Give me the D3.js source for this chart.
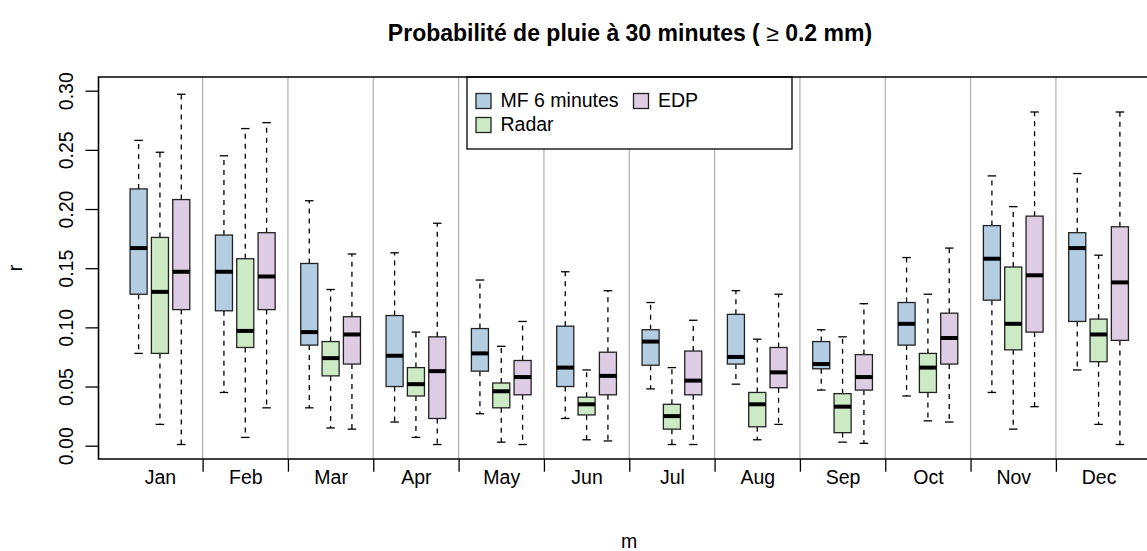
<!DOCTYPE html>
<html lang="fr">
<head>
<meta charset="utf-8">
<title>Probabilité de pluie à 30 minutes</title>
<script src="https://d3js.org/d3.v7.min.js"></script>
<style>
  body { margin: 0; background: #fff; }
  svg text { font-family: "Liberation Sans", Arial, sans-serif; fill: #000; }
</style>
</head>
<body>
<script>
// data
var months = ["Jan", "Feb", "Mar", "Apr", "May", "Jun", "Jul", "Aug", "Sep", "Oct", "Nov", "Dec"];
var seriesNames = ["MF 6 minutes", "Radar", "EDP"];
var seriesColors = ["#b3cde3", "#ccebc5", "#decbe4"];
var yTicks = [0, 0.05, 0.10, 0.15, 0.20, 0.25, 0.30];

// [min, q1, median, q3, max] per month
var mf6 = [
  [0.078, 0.128, 0.167, 0.217, 0.258],
  [0.045, 0.114, 0.147, 0.178, 0.245],
  [0.032, 0.085, 0.096, 0.154, 0.207],
  [0.020, 0.050, 0.076, 0.110, 0.163],
  [0.027, 0.063, 0.078, 0.099, 0.140],
  [0.023, 0.050, 0.066, 0.101, 0.147],
  [0.048, 0.068, 0.088, 0.098, 0.121],
  [0.052, 0.069, 0.075, 0.111, 0.131],
  [0.047, 0.065, 0.069, 0.088, 0.098],
  [0.042, 0.085, 0.103, 0.121, 0.159],
  [0.045, 0.123, 0.158, 0.186, 0.228],
  [0.064, 0.105, 0.167, 0.180, 0.230]
];
var radar = [
  [0.018, 0.078, 0.130, 0.176, 0.248],
  [0.007, 0.083, 0.097, 0.158, 0.268],
  [0.015, 0.059, 0.074, 0.088, 0.132],
  [0.007, 0.042, 0.052, 0.066, 0.096],
  [0.003, 0.032, 0.046, 0.053, 0.084],
  [0.005, 0.026, 0.035, 0.041, 0.064],
  [0.001, 0.014, 0.025, 0.035, 0.066],
  [0.005, 0.016, 0.035, 0.045, 0.090],
  [0.003, 0.011, 0.033, 0.044, 0.092],
  [0.021, 0.045, 0.066, 0.078, 0.128],
  [0.014, 0.081, 0.103, 0.151, 0.202],
  [0.018, 0.071, 0.094, 0.107, 0.161]
];
var edp = [
  [0.001, 0.115, 0.147, 0.208, 0.297],
  [0.032, 0.115, 0.143, 0.180, 0.273],
  [0.014, 0.069, 0.094, 0.109, 0.162],
  [0.001, 0.023, 0.063, 0.092, 0.188],
  [0.001, 0.043, 0.058, 0.072, 0.105],
  [0.004, 0.043, 0.059, 0.079, 0.131],
  [0.001, 0.043, 0.055, 0.080, 0.106],
  [0.018, 0.049, 0.062, 0.083, 0.128],
  [0.002, 0.047, 0.058, 0.077, 0.120],
  [0.020, 0.069, 0.091, 0.112, 0.167],
  [0.033, 0.096, 0.144, 0.194, 0.282],
  [0.001, 0.089, 0.138, 0.185, 0.282]
];
var allSeries = [mf6, radar, edp];

var width = 1147, height = 551;
var plotLeft = 98.5, plotRight = 1160, plotTop = 77, plotBottom = 459;

var svg = d3.select("body").append("svg")
  .attr("width", width)
  .attr("height", height);

// positions 1,2,3 | 5,6,7 | ... like R boxplot with at=
var x = d3.scaleLinear().domain([-0.88, 48.88]).range([plotLeft, plotRight]);
var y = d3.scaleLinear().domain([0, 0.30]).range([445.7, 90.7]);

var boxW = x(0.8) - x(0);
var capW = boxW * 0.5;

// month separators
var seps = d3.range(1, 12).map(function(i) { return 4 * i; });
svg.append("g").selectAll("line")
  .data(seps)
  .enter().append("line")
  .attr("x1", d => x(d)).attr("x2", d => x(d))
  .attr("y1", plotTop).attr("y2", plotBottom)
  .attr("stroke", "#b4b4b4")
  .attr("stroke-width", 1.3);

// flatten boxes
var boxes = [];
months.forEach(function(m, i) {
  allSeries.forEach(function(s, j) {
    var st = s[i];
    boxes.push({ pos: 4 * i + j + 1, col: seriesColors[j],
      min: st[0], q1: st[1], med: st[2], q3: st[3], max: st[4] });
  });
});

var bx = svg.append("g").selectAll("g")
  .data(boxes)
  .enter().append("g");

// whiskers
bx.append("line")
  .attr("x1", d => x(d.pos)).attr("x2", d => x(d.pos))
  .attr("y1", d => y(d.q3)).attr("y2", d => y(d.max))
  .attr("stroke", "#000").attr("stroke-width", 1.3)
  .attr("stroke-dasharray", "5,5");
bx.append("line")
  .attr("x1", d => x(d.pos)).attr("x2", d => x(d.pos))
  .attr("y1", d => y(d.q1)).attr("y2", d => y(d.min))
  .attr("stroke", "#000").attr("stroke-width", 1.3)
  .attr("stroke-dasharray", "5,5");
// caps
["max", "min"].forEach(function(k) {
  bx.append("line")
    .attr("x1", d => x(d.pos) - capW / 2).attr("x2", d => x(d.pos) + capW / 2)
    .attr("y1", d => y(d[k])).attr("y2", d => y(d[k]))
    .attr("stroke", "#000").attr("stroke-width", 1.3);
});
// box
bx.append("rect")
  .attr("x", d => x(d.pos) - boxW / 2)
  .attr("width", boxW)
  .attr("y", d => y(d.q3))
  .attr("height", d => y(d.q1) - y(d.q3))
  .attr("fill", d => d.col)
  .attr("stroke", "#222")
  .attr("stroke-width", 1.3);
// median
bx.append("line")
  .attr("x1", d => x(d.pos) - boxW / 2).attr("x2", d => x(d.pos) + boxW / 2)
  .attr("y1", d => y(d.med)).attr("y2", d => y(d.med))
  .attr("stroke", "#000").attr("stroke-width", 4);

// y axis
var yAxis = svg.append("g")
  .attr("transform", "translate(" + plotLeft + ",0)")
  .call(d3.axisLeft(y).tickValues(yTicks).tickFormat(d3.format(".2f")).tickSize(13));
yAxis.select(".domain").remove();
yAxis.selectAll(".tick line").attr("stroke-width", 1.3);
yAxis.selectAll(".tick text")
  .attr("x", 0).attr("y", 0).attr("dy", 0)
  .attr("text-anchor", "middle")
  .attr("transform", "translate(-25.5,0) rotate(-90)")
  .style("font-size", "19.5px");

// x axis: ticks at separators, labels at month centres
var xAxis = svg.append("g")
  .attr("transform", "translate(0," + plotBottom + ")")
  .call(d3.axisBottom(x).tickValues(seps).tickFormat("").tickSize(12.7));
xAxis.select(".domain").remove();
xAxis.selectAll(".tick line").attr("stroke-width", 1.3);

var xLab = svg.append("g")
  .attr("transform", "translate(0," + plotBottom + ")")
  .call(d3.axisBottom(x).tickValues(months.map((m, i) => 4 * i + 2))
    .tickFormat((d, i) => months[i]).tickSize(0));
xLab.select(".domain").remove();
xLab.selectAll(".tick text")
  .attr("y", 25).attr("dy", 0)
  .style("font-size", "19.5px");

// legend
var lg = svg.append("g");
lg.append("rect")
  .attr("x", 467).attr("y", plotTop)
  .attr("width", 325).attr("height", 72)
  .attr("fill", "#fff").attr("stroke", "#000").attr("stroke-width", 1.3);
var legPos = [[476, 93.5], [476, 117.5], [633.5, 93.5]];
seriesNames.forEach(function(n, j) {
  var p = legPos[j];
  lg.append("rect")
    .attr("x", p[0]).attr("y", p[1])
    .attr("width", 15).attr("height", 15)
    .attr("fill", seriesColors[j]).attr("stroke", "#222").attr("stroke-width", 1.3);
  lg.append("text")
    .attr("x", p[0] + 24.5).attr("y", p[1] + 13.5)
    .style("font-size", "19.5px")
    .text(n);
});

// frame (right side falls outside the picture)
svg.append("path")
  .attr("d", "M" + plotRight + "," + plotTop + "H" + plotLeft + "V" + plotBottom + "H" + plotRight)
  .attr("fill", "none").attr("stroke", "#000").attr("stroke-width", 1.6);

// titles
var title = svg.append("text")
  .attr("x", 630).attr("y", 41)
  .attr("text-anchor", "middle")
  .style("font-size", "23px").style("font-weight", "bold");
title.append("tspan").text("Probabilité de pluie à 30 minutes ( ");
title.append("tspan").style("font-weight", "normal").text("≥");
title.append("tspan").text(" 0.2 mm)");

svg.append("text")
  .attr("x", 629).attr("y", 548)
  .attr("text-anchor", "middle")
  .style("font-size", "19.5px")
  .text("m");

svg.append("text")
  .attr("transform", "translate(21.7,268) rotate(-90)")
  .attr("text-anchor", "middle")
  .style("font-size", "19.5px")
  .text("r");
</script>
</body>
</html>
